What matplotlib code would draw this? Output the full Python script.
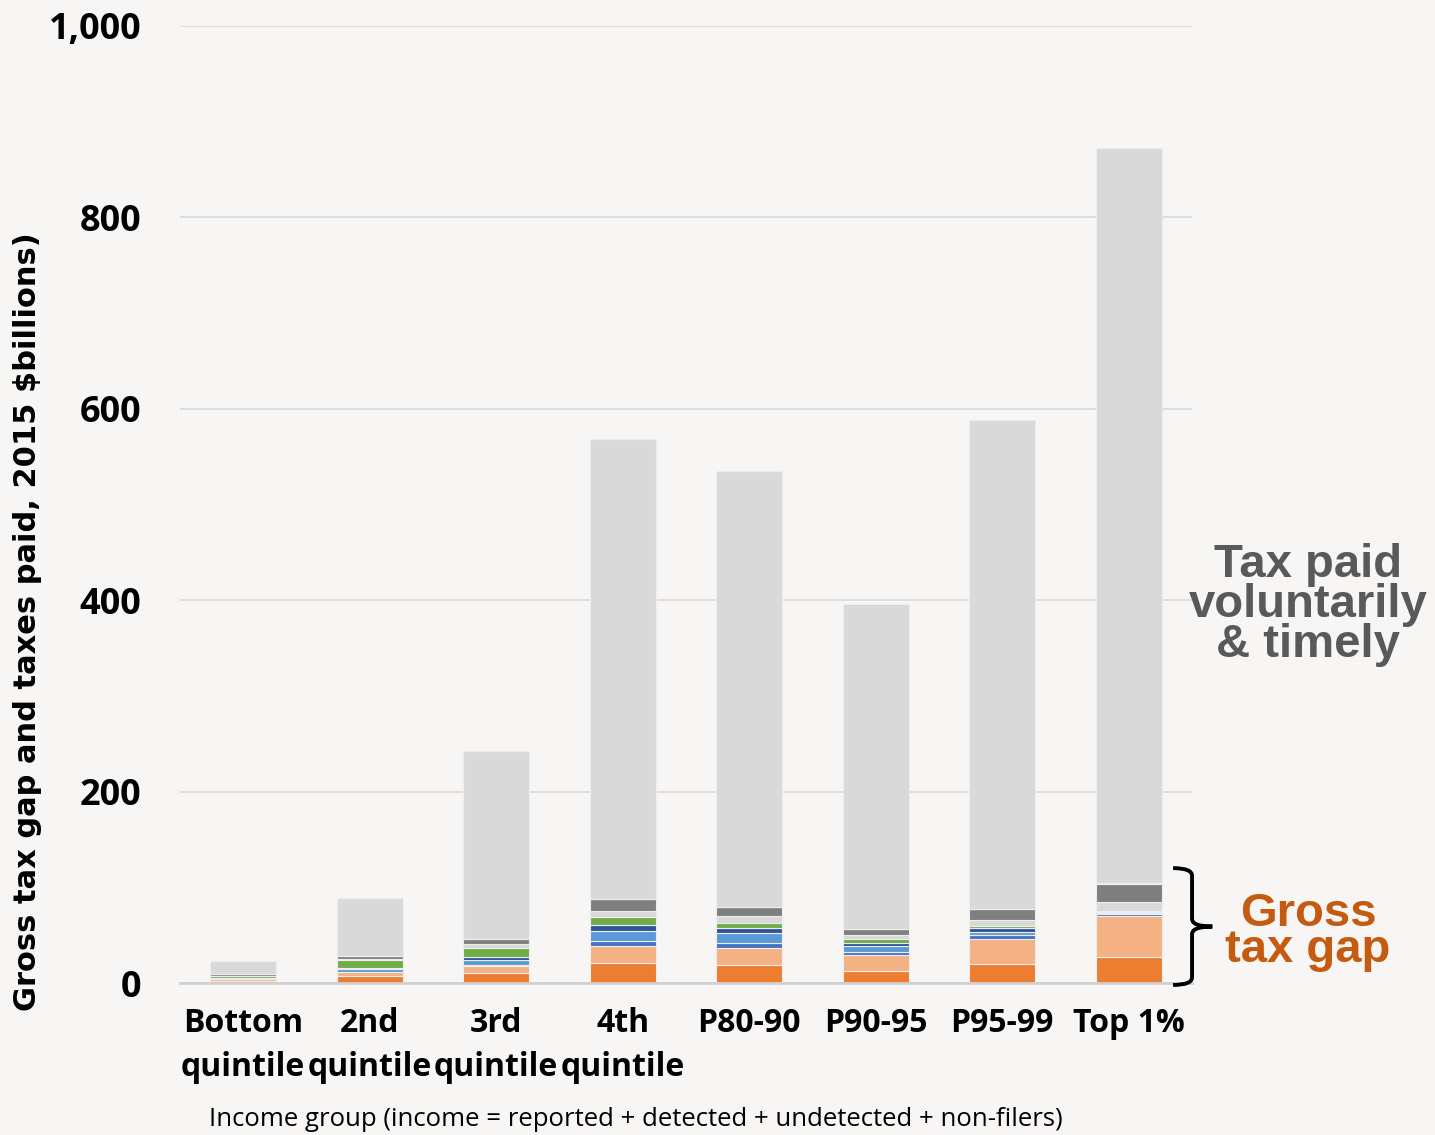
import matplotlib
matplotlib.use("Agg")
import matplotlib.pyplot as plt
from matplotlib.path import Path
from matplotlib.patches import PathPatch
from matplotlib.ticker import FuncFormatter
import numpy as np

# data ($billions)
groups = ["Bottom\nquintile", "2nd\nquintile", "3rd\nquintile", "4th\nquintile",
          "P80-90", "P90-95", "P95-99", "Top 1%"]
orange = [2.0, 7.7, 10.8, 21.2, 18.8, 12.9, 20.2, 27.2]
light_orange = [2.5, 3.8, 7.0, 17.4, 18.1, 16.4, 26.1, 43.2]
mid_blue = [0.2, 0.5, 1.4, 4.9, 5.2, 3.5, 4.2, 1.7]
light_blue = [0.3, 3.0, 4.9, 10.8, 10.1, 5.9, 3.1, 1.4]
dark_blue = [0.2, 1.0, 3.1, 6.6, 5.6, 3.5, 4.2, 1.0]
green = [1.8, 7.7, 9.4, 8.0, 5.2, 3.8, 2.1, 1.0]
light_gap = [0.8, 1.4, 3.8, 6.6, 7.0, 4.2, 5.9, 8.7]
dark_gray = [1.2, 3.1, 5.9, 11.8, 9.4, 6.6, 11.1, 18.8]
purple = [0, 0, 0, 0, 0, 0, 0, 1.4]
paid = [14.0, 60.8, 195.7, 480.7, 455.6, 339.2, 511.1, 768.1]

series = [orange, light_orange, mid_blue, light_blue, dark_blue, green,
          light_gap, dark_gray, purple, paid]
colors = ["#ED7D31", "#F4B183", "#4472C4", "#5B9BD5", "#2F5597", "#70AD47",
          "#D9D9D9", "#7F7F7F", "#8064A2", "#D9D9D9"]

bg = "#F7F6F4"
fig = plt.figure(figsize=(14.35, 11.35), dpi=100, facecolor=bg)
ax = fig.add_axes([0.1254, 0.1339, 0.7053, 0.8432], facecolor=bg)

x = np.arange(len(groups))
bottom = np.zeros(len(groups))
for vals, c in zip(series, colors):
    ax.bar(x, vals, bottom=bottom, width=0.52, color=c, edgecolor="#EDEDED",
           linewidth=0.8, zorder=3)
    bottom += np.array(vals)

ax.set_xlim(-0.5, 7.5)
ax.set_ylim(0, 1000)
ax.set_yticks(range(0, 1001, 200))
ax.yaxis.set_major_formatter(FuncFormatter(lambda v, p: f"{int(v):,}"))
ax.grid(axis="y", color="#D9D9D9", linewidth=1.2, zorder=0)
for s in ["top", "right", "left"]:
    ax.spines[s].set_visible(False)
ax.spines["bottom"].set_color("#D0D0D0")
ax.spines["bottom"].set_linewidth(2)
ax.spines["bottom"].set_zorder(4)
ax.tick_params(axis="both", length=0)
ax.tick_params(axis="y", pad=28)
ax.tick_params(axis="x", pad=17)

ax.set_xticks(x)
ax.set_xticklabels(groups, fontfamily="Open Sans", fontweight="bold",
                   fontsize=23, linespacing=1.45)
for lbl in ax.get_yticklabels():
    lbl.set_fontfamily("Open Sans")
    lbl.set_fontweight("bold")
    lbl.set_fontsize(26)

fig.text(0.0195, 1 - 622 / 1135, "Gross tax gap and taxes paid, 2015 $billions)",
         rotation=90, ha="center", va="center", fontsize=22, fontweight="bold",
         family=["Liberation Sans Narrow", "DejaVu Sans"])
fig.text(636 / 1435, 1 - 1120 / 1135,
         "Income group (income = reported + detected + undetected + non-filers)",
         ha="center", va="center", fontsize=18.5, fontfamily="Open Sans")

# annotations on the right
fig.text(1308 / 1435, 1 - 605 / 1135, "Tax paid\nvoluntarily\n& timely",
         ha="center", va="center", fontsize=34, fontweight="bold",
         color="#595959", fontfamily="Liberation Sans", linespacing=0.88)
fig.text(1308 / 1435, 1 - 932 / 1135, "Gross\ntax gap",
         ha="center", va="center", fontsize=34, fontweight="bold",
         color="#C55A11", fontfamily="Liberation Sans", linespacing=0.78)

# brace around the top 1% tax gap
gap_top = bottom[-1] - paid[-1]
top = gap_top * 1.15
bot = -2
mid = (top + bot) / 2
x0, x1, x2 = 7.35, 7.5, 7.66
r = 8
verts = [(x0, top), (x1, top), (x1, top - r),
         (x1, mid + r), (x1, mid), (x2, mid),
         (x1, mid), (x1, mid - r),
         (x1, bot + r), (x1, bot), (x0, bot)]
codes = [Path.MOVETO, Path.CURVE3, Path.CURVE3,
         Path.LINETO, Path.CURVE3, Path.CURVE3,
         Path.CURVE3, Path.CURVE3,
         Path.LINETO, Path.CURVE3, Path.CURVE3]
ax.add_patch(PathPatch(Path(verts, codes), facecolor="none", edgecolor="black",
                       linewidth=2.8, clip_on=False, zorder=5))

fig.savefig("out.png", dpi=100, facecolor=bg)
